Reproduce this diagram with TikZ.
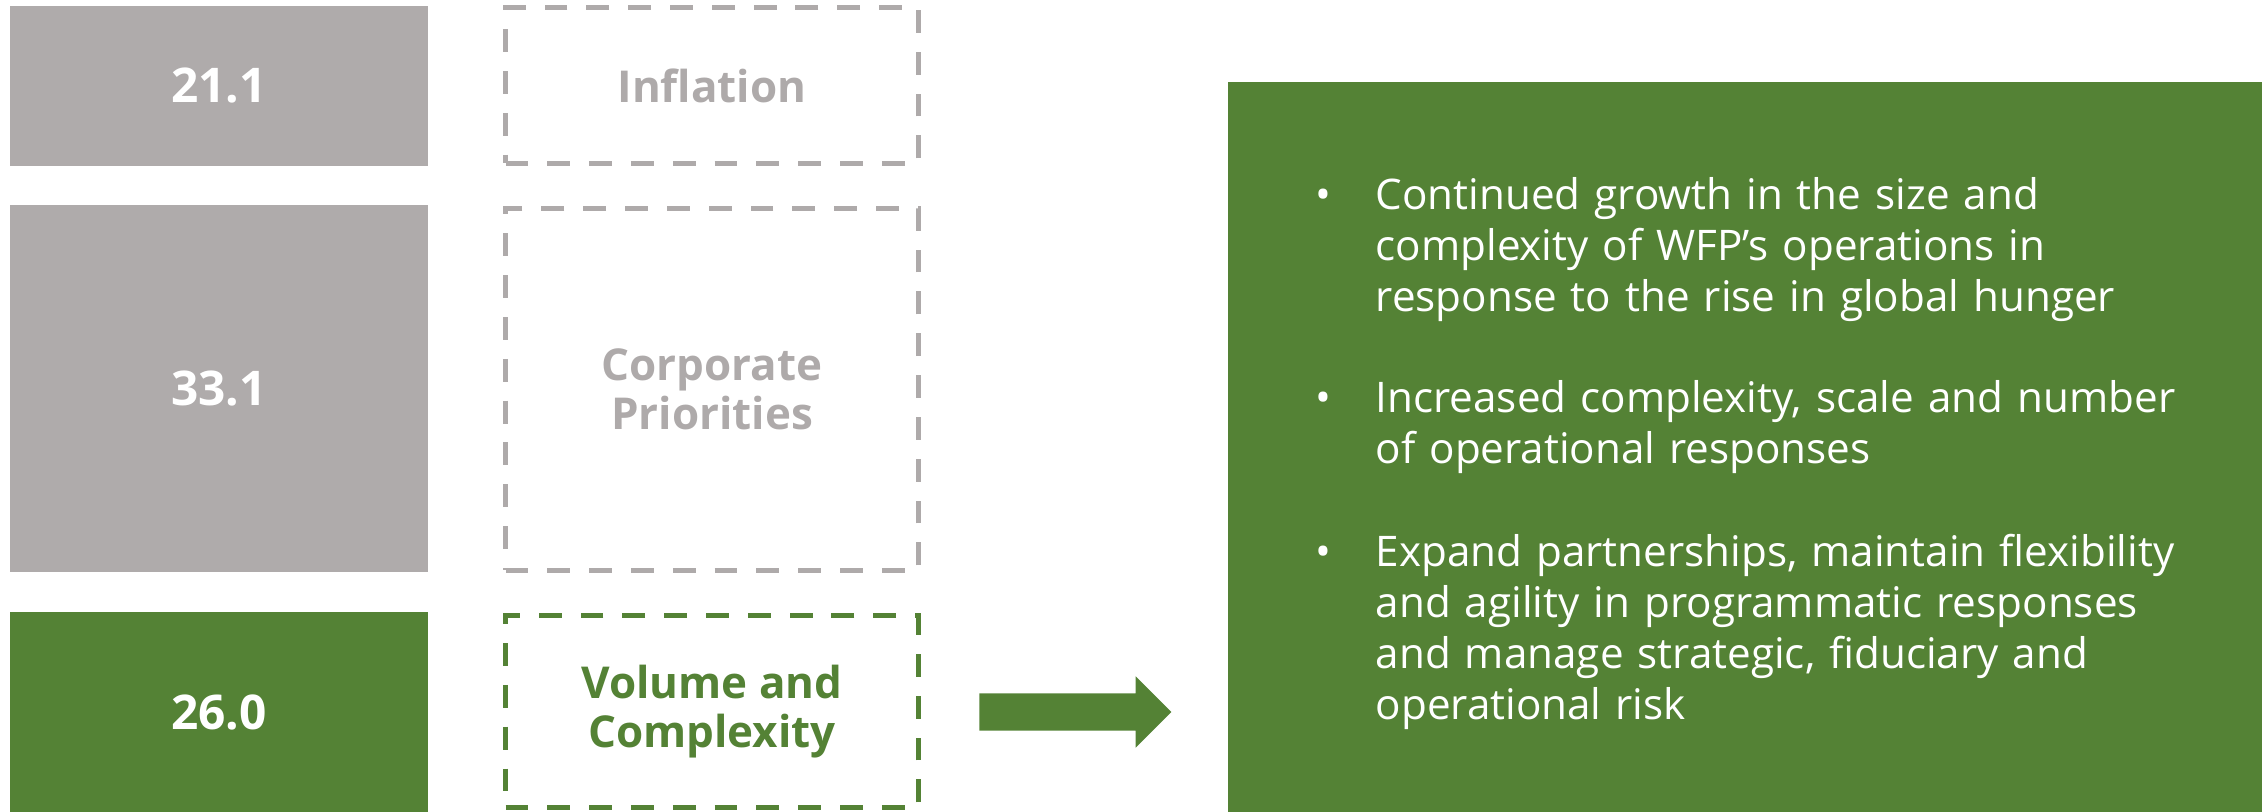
\documentclass[tikz,border=0pt]{standalone}
\usepackage{fontspec}
\setmainfont{Open Sans}
\usetikzlibrary{shapes.arrows}
\definecolor{wfpgreen}{HTML}{548235}
\definecolor{boxgray}{HTML}{AFABAB}
\definecolor{labelgray}{HTML}{AEAAAA}
\tikzset{
	valuebox/.style={fill=#1, text=white, inner sep=0pt, minimum width=4.18cm,
		font=\fontsize{13.6}{14}\selectfont\bfseries},
	catbox/.style={draw=#1, text=#1, line width=1.4pt, dash pattern=on 6.5pt off 5.4pt,
		inner sep=0pt, minimum width=4.13cm, align=center,
		font=\fontsize{12.5}{13.9}\selectfont\bfseries},
	item/.style={text=white, anchor=base west, inner sep=0pt, text width=8.6cm, align=left,
		font=\fontsize{12}{14.5}\selectfont},
	dot/.style={text=white, anchor=base, inner sep=0pt, font=\fontsize{12}{14.5}\selectfont}
}

\begin{document}
\begin{tikzpicture}[x=1cm, y=-1cm]
		%%%%% START %%%%%
		\useasboundingbox (0, 0) rectangle (22.62, 8.12);
		
		% amounts
		\node[valuebox=boxgray, minimum height=1.60cm] (val1) at (2.19, 0.86) {21.1};
		\node[valuebox=boxgray, minimum height=3.67cm] (val2) at (2.19, 3.885) {33.1};
		\node[valuebox=wfpgreen, minimum height=2.00cm] (val3) at (2.19, 7.12) {26.0};
		
		% what each amount is for
		\node[catbox=labelgray, minimum height=1.56cm] (cat1) at (7.12, 0.855) {Inflation};
		\node[catbox=labelgray, minimum height=3.62cm] (cat2) at (7.12, 3.895) {Corporate\\Priorities};
		\node[catbox=wfpgreen, minimum height=1.92cm] (cat3) at (7.12, 7.115) {Volume and\\Complexity};
		
		\node[single arrow, fill=wfpgreen, inner sep=0pt, inner ysep=0.18cm, minimum height=1.92cm,
			single arrow head extend=0.17cm, single arrow head indent=0pt] (arrow) at (10.66, 7.12) {};
		
		% detail panel
		\node[fill=wfpgreen, inner sep=0pt, minimum width=10.42cm, minimum height=7.38cm] (panel) at (17.49, 4.51) {};
		
		\node[item] (item1) at (13.75, 2.10) {Continued growth in the size and\\complexity of WFP’s operations in\\response to the rise in global hunger};
		\node[item] (item2) at (13.75, 4.13) {Increased complexity, scale and number\\of operational responses};
		\node[item] (item3) at (13.75, 5.67) {Expand partnerships, maintain flexibility\\and agility in programmatic responses\\and manage strategic, fiduciary and\\operational risk};
		
		\foreach \i in {1,2,3}
			\node[dot] at (13.23, 0 |- item\i.base) {•};
		
		%%%%% END %%%%%
	\end{tikzpicture}
\end{document}
